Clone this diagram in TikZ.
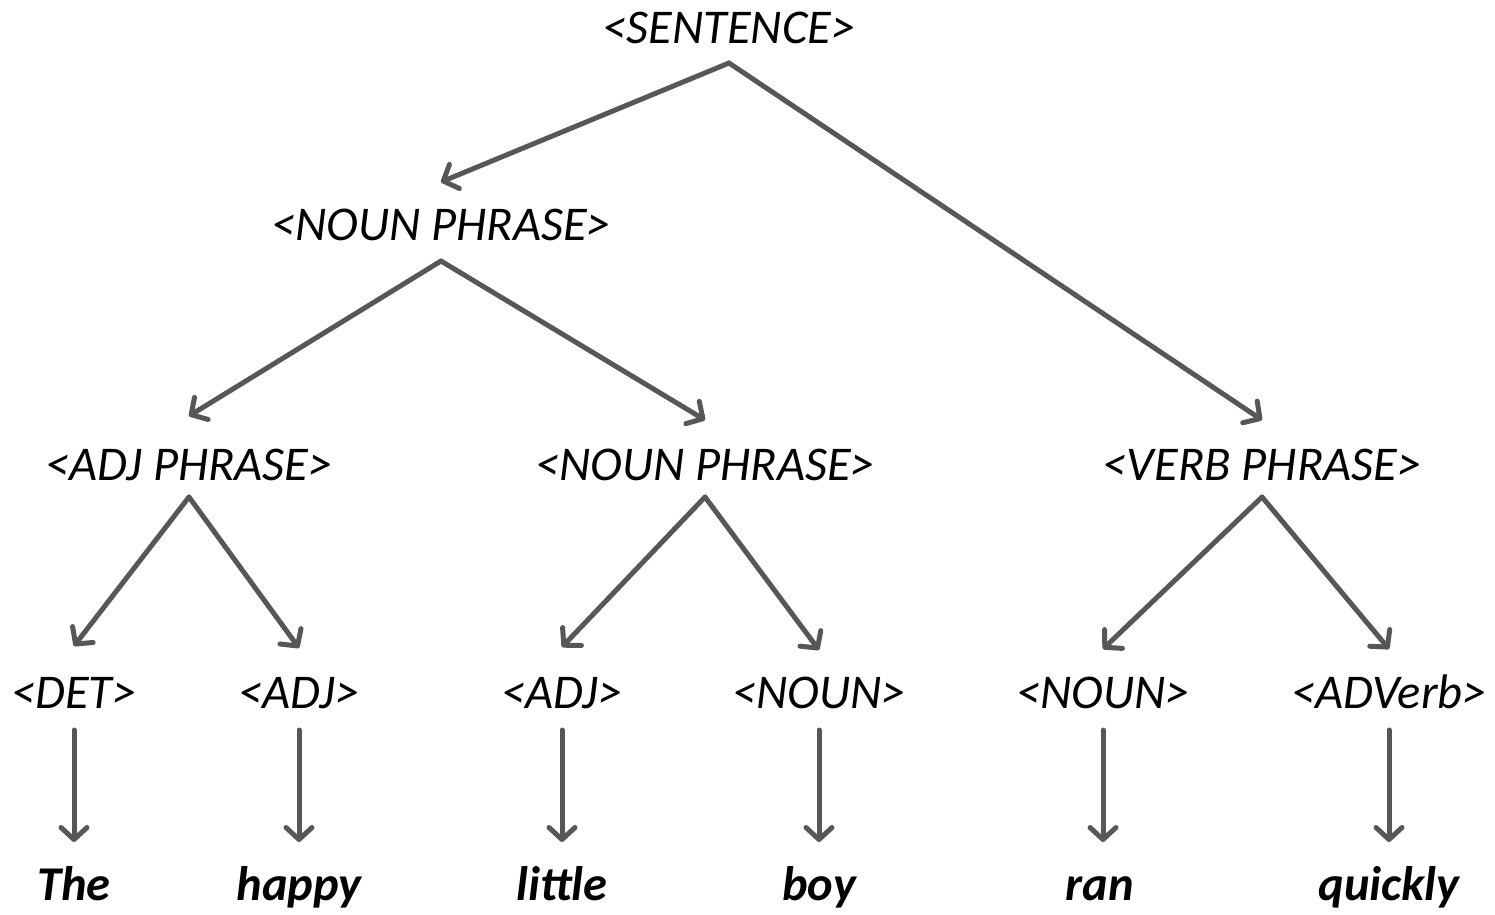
\documentclass[tikz,border=0pt]{standalone}
\usepackage{fontspec}
\setmainfont{Carlito}
\usetikzlibrary{arrows.meta}
\definecolor{edgegray}{HTML}{575757}
\begin{document}
\begin{tikzpicture}[x=1pt,y=-1pt,
  lbl/.style={anchor=base,inner sep=0pt,font=\fontsize{48.5}{52}\selectfont\itshape},
  word/.style={anchor=base,inner sep=0pt,font=\fontsize{48.5}{52}\selectfont\bfseries\itshape},
  arr/.style={draw=edgegray,line width=5pt,line cap=round,line join=round,
    -{Straight Barb[length=12pt,width=26pt,round]}}]
\useasboundingbox (0,0) rectangle (1495,914);

% phrase labels
\node[lbl] (s)    at (729,43)  {<SENTENCE>};
\node[lbl] (np1)  at (441,240) {<NOUN PHRASE>};
\node[lbl] (adjp) at (189,480) {<ADJ PHRASE>};
\node[lbl] (np2)  at (705,480) {<NOUN PHRASE>};
\node[lbl] (vp)   at (1262,480) {<VERB PHRASE>};

% part-of-speech labels
\node[lbl] (det)  at (74,708)  {<DET>};
\node[lbl] (adj1) at (299,708) {<ADJ>};
\node[lbl] (adj2) at (562,708) {<ADJ>};
\node[lbl] (n1)   at (819,708) {<NOUN>};
\node[lbl] (n2)   at (1103,708) {<NOUN>};
\node[lbl] (adv)  at (1389,708) {<ADVerb>};

% words
\node[word] (w1) at (74,900)  {The};
\node[word] (w2) at (299,900) {happy};
\node[word] (w3) at (562,900) {little};
\node[word] (w4) at (819,900) {boy};
\node[word] (w5) at (1100,900) {ran};
\node[word] (w6) at (1389,900) {quickly};

% tree branches
\draw[arr] ([yshift=-20pt]s.base) -- ([yshift=58pt]np1.base);
\draw[arr] ([yshift=-20pt]s.base) -- ([yshift=60pt]vp.base);

\draw[arr] ([yshift=-21pt]np1.base) -- ([yshift=64pt]adjp.base);
\draw[arr] ([yshift=-21pt]np1.base) -- ([yshift=60pt]np2.base);

\draw[arr] ([yshift=-17pt]adjp.base) -- ([yshift=62pt]det.base);
\draw[arr] ([yshift=-17pt]adjp.base) -- ([yshift=60pt]adj1.base);

\draw[arr] ([yshift=-17pt]np2.base) -- ([yshift=61pt]adj2.base);
\draw[arr] ([yshift=-17pt]np2.base) -- ([yshift=58pt]n1.base);

\draw[arr] ([yshift=-17pt]vp.base) -- ([yshift=59pt]n2.base);
\draw[arr] ([yshift=-17pt]vp.base) -- ([yshift=59pt]adv.base);

% leaves
\draw[arr] ([yshift=-22pt]det.base)  -- ([yshift=58pt]w1.base);
\draw[arr] ([yshift=-22pt]adj1.base) -- ([yshift=58pt]w2.base);
\draw[arr] ([yshift=-22pt]adj2.base) -- ([yshift=58pt]w3.base);
\draw[arr] ([yshift=-22pt]n1.base)   -- ([yshift=58pt]w4.base);
\draw[arr] ([yshift=-22pt]n2.base)   -- ([yshift=58pt]n2.base |- w5.base);
\draw[arr] ([yshift=-22pt]adv.base)  -- ([yshift=58pt]w6.base);
\end{tikzpicture}
\end{document}
